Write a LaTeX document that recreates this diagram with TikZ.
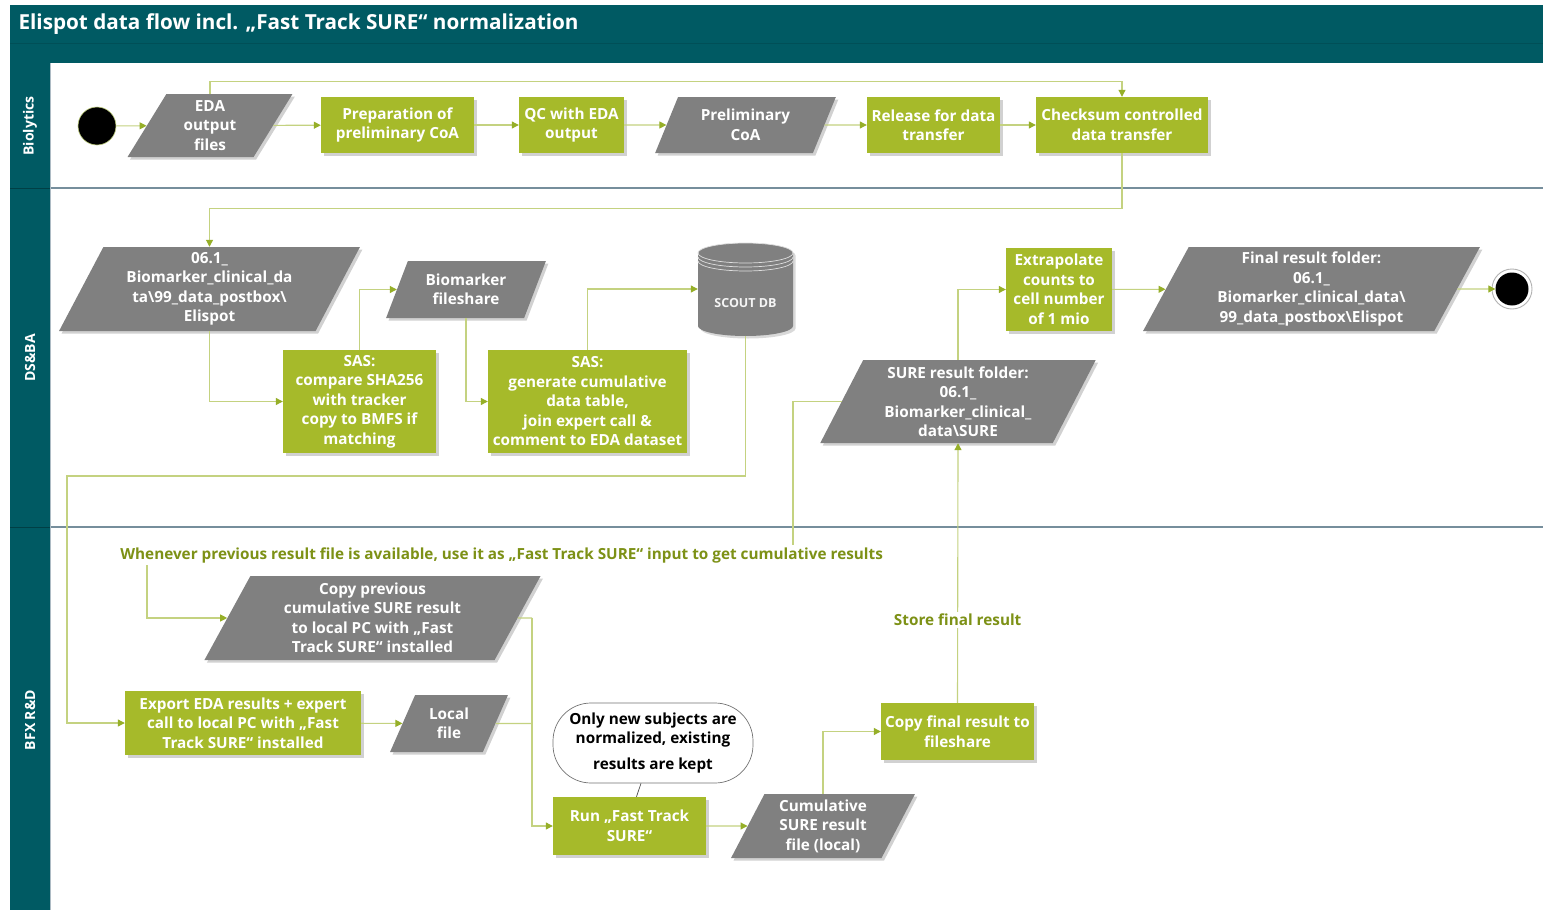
\documentclass[tikz,border=0pt]{standalone}
\usepackage{fontspec}
\setmainfont{Open Sans}
\usetikzlibrary{shapes.geometric,arrows.meta,shadows,calc}
\definecolor{teal0}{RGB}{0,90,99}
\definecolor{boxg}{RGB}{166,186,42}
\definecolor{grayp}{RGB}{128,128,128}
\definecolor{lineg}{RGB}{196,210,128}
\definecolor{arrowg}{RGB}{150,175,40}
\definecolor{textg}{RGB}{125,145,22}
\definecolor{lanel}{RGB}{118,142,156}
\begin{document}
\begin{tikzpicture}[x=1pt,y=-1pt,
  font=\bfseries\fontsize{15.3}{19.5}\selectfont,
  shad/.style={drop shadow={shadow xshift=2.5pt,shadow yshift=-2.5pt,opacity=0.18,fill=black}},
  gbox/.style={rectangle,fill=boxg,text=white,align=center,inner sep=2pt,shad},
  gpara/.style={trapezium,trapezium left angle=65,trapezium right angle=115,
    trapezium stretches=true,fill=grayp,text=white,align=center,inner sep=1pt,shad},
  conn/.style={draw=lineg,line width=1.1pt,-{Triangle[length=7pt,width=7pt,color=arrowg]}},
  plain/.style={draw=lineg,line width=1.1pt},
  lbl/.style={fill=white,text=textg,inner sep=2pt,font=\bfseries\fontsize{15.3}{18}\selectfont},
  lanetxt/.style={rotate=90,text=white,font=\bfseries\fontsize{14}{16}\selectfont}]
\useasboundingbox (0,0) rectangle (1543,910);
\fill[white] (0,0) rectangle (1543,910);
% title bar and lane column
\fill[teal0] (10,5) rectangle (1543,63);
\draw[teal0!88!black,line width=0.6pt] (10,43) -- (1543,43);
\fill[teal0] (10,63) rectangle (50,910);
\node[anchor=west,text=white,font=\bfseries\fontsize{20.7}{24}\selectfont] (title) at (15,24)
  {Elispot data flow incl. „Fast Track SURE“ normalization};
% lane separators
\draw[lanel,line width=1.3pt] (50,188) -- (1543,188);
\draw[lanel,line width=1.3pt] (50,527) -- (1543,527);
\draw[teal0!70!black,line width=0.8pt] (10,188) -- (50,188);
\draw[teal0!70!black,line width=0.8pt] (10,527) -- (50,527);
\draw[lanel!60,line width=0.8pt] (50,63) -- (50,910);
\node[lanetxt] (l1) at (30,126) {Biolytics};
\node[lanetxt] (l2) at (30,358) {DS\&BA};
\node[lanetxt] (l3) at (30,720) {BFX R\&D};

% ---------- Biolytics lane ----------
\node[circle,fill=black,draw=arrowg!60,line width=0.6pt,minimum size=38pt] (start) at (97,126) {};
\node[gpara,minimum width=165pt,minimum height=63pt] (eda) at (210,125.5) {EDA\\output\\files};
\node[gbox,minimum width=153pt,minimum height=56pt] (prep) at (397.5,125) {Preparation of\\preliminary CoA};
\node[gbox,minimum width=105pt,minimum height=56pt] (qc) at (571.5,125) {QC with EDA\\output};
\node[gpara,minimum width=181pt,minimum height=56pt] (pcoa) at (745.5,125) {Preliminary\\CoA};
\node[gbox,minimum width=133pt,minimum height=56pt] (rel) at (933.5,125) {Release for data\\transfer};
\node[gbox,minimum width=172pt,minimum height=56pt] (chk) at (1122,125) {Checksum controlled\\data transfer};

\draw[conn] (start) -- (eda);
\draw[conn] (eda) -- (prep);
\draw[conn] (prep) -- (qc);
\draw[conn] (qc) -- (pcoa);
\draw[conn] (pcoa) -- (rel);
\draw[conn] (rel) -- (chk);
\draw[conn] (eda.north) -- ++(0,-12) -| (chk.north);

% ---------- DS&BA lane ----------
\node[gpara,minimum width=301pt,minimum height=84pt] (p061) at (209.5,289)
  {06.1\_\\Biomarker\_clinical\_da\\ta\textbackslash 99\_data\_postbox\textbackslash\\Elispot};
\node[gpara,minimum width=160pt,minimum height=57pt] (bmfs) at (466,289.5) {Biomarker\\fileshare};
% SCOUT DB cylinder
\begin{scope}
\fill[black,opacity=0.15] (700.5,255.5) -- (700.5,328.5) arc[start angle=180,end angle=0,x radius=47.5,y radius=10]
  -- (795.5,255.5) arc[start angle=0,end angle=-180,x radius=47.5,y radius=10] -- cycle;
\fill[grayp] (698,253) -- (698,326) arc[start angle=180,end angle=0,x radius=47.5,y radius=10]
  -- (793,253) arc[start angle=0,end angle=-180,x radius=47.5,y radius=10] -- cycle;
\draw[white!75!grayp,line width=0.7pt] (745.5,253) ellipse[x radius=47.5,y radius=10];
\draw[white!75!grayp,line width=0.7pt] (698,257) arc[start angle=180,end angle=0,x radius=47.5,y radius=10];
\draw[white!75!grayp,line width=0.7pt] (698,261) arc[start angle=180,end angle=0,x radius=47.5,y radius=10];
\end{scope}
\node[minimum width=95pt,minimum height=94pt] (db) at (745.5,289) {};
\node[text=white!92!grayp,font=\bfseries\fontsize{12.5}{14}\selectfont] (dbtxt) at (745.5,303) {SCOUT DB};
\node[gbox,minimum width=106pt,minimum height=83pt] (extra) at (1059,289.5) {Extrapolate\\counts to\\cell number\\of 1 mio};
\node[gpara,minimum width=337pt,minimum height=84pt] (final) at (1311.5,289)
  {Final result folder:\\06.1\_\\Biomarker\_clinical\_data\textbackslash\\99\_data\_postbox\textbackslash Elispot};
\node[circle,fill=black,minimum size=33pt,inner sep=0pt] (endc) at (1512,289) {};
\draw[black!30,line width=0.9pt] (endc.center) circle[radius=20pt];
\node[gbox,minimum width=153pt,minimum height=103pt] (sas1) at (359.5,401.5)
  {SAS:\\compare SHA256\\with tracker\\copy to BMFS if\\matching};
\node[gbox,minimum width=199pt,minimum height=103pt] (sas2) at (587.5,401.5)
  {SAS:\\generate cumulative\\data table,\\join expert call \&\\comment to EDA dataset};
\node[gpara,minimum width=276pt,minimum height=83pt] (surer) at (958,401.5)
  {SURE result folder:\\06.1\_\\Biomarker\_clinical\_\\data\textbackslash SURE};

\draw[conn] (chk.south) -- ++(0,55) -| (p061.north);
\draw[conn] (p061.south) |- (sas1.west);
\draw[conn] (sas1.north) |- (bmfs.west);
\draw[conn] (bmfs.south) |- (sas2.west);
\draw[conn] (sas2.north) |- (db.west);
\draw[conn] (surer.north) |- (extra.west);
\draw[conn] (extra) -- (final);
\draw[conn] (final.east) -- (endc.west);

% ---------- BFX R&D lane ----------
\node[gpara,minimum width=337pt,minimum height=84pt] (copyp) at (372.5,618)
  {Copy previous\\cumulative SURE result\\to local PC with „Fast\\Track SURE“ installed};
\node[gbox,minimum width=236pt,minimum height=64pt] (export) at (243,723)
  {Export EDA results + expert\\call to local PC with „Fast\\Track SURE“ installed};
\node[gpara,minimum width=118pt,minimum height=57pt] (local) at (449,723.5) {Local\\file};
\node[draw=black!55,line width=0.7pt,fill=white,rounded corners=38pt,minimum width=200pt,minimum height=80pt,
  align=center,text=black] (callout) at (653,743)
  {Only new subjects are\\normalized, existing\\[6pt]results are kept};
\node[gbox,minimum width=153pt,minimum height=58pt] (run) at (629.5,826) {Run „Fast Track\\SURE“};
\node[gpara,minimum width=184pt,minimum height=64pt] (cumul) at (823,826) {Cumulative\\SURE result\\file (local)};
\node[gbox,minimum width=153pt,minimum height=57pt] (copyf) at (957.5,731.5) {Copy final result to\\fileshare};

\draw[conn] (db.south) -- (745.5,476) -- (67,476) |- (export.west);
\draw[conn] (surer.west) -| (793,555) -- node[lbl,pos=0.451] (note)
  {Whenever previous result file is available, use it as „Fast Track SURE“ input to get cumulative results}
  (147,555) |- (copyp.west);
\draw[conn] (export) -- (local);
\draw[plain] (copyp.east) -- (532,618);
\draw[conn] (532,618) |- (run.west);
\draw[plain] (local.east) -- (532,723.5);
\draw[conn] (run) -- (cumul);
\draw[conn] (cumul.north) |- (copyf.west);
\draw[conn] (copyf.north) -- node[lbl,pos=0.32] (store) {Store final result} (surer.south);
\draw[black!70,line width=0.7pt] ($(callout.south)+(-12,0)$) -- ($(run.north)+(7,0)$);
\end{tikzpicture}
\end{document}
